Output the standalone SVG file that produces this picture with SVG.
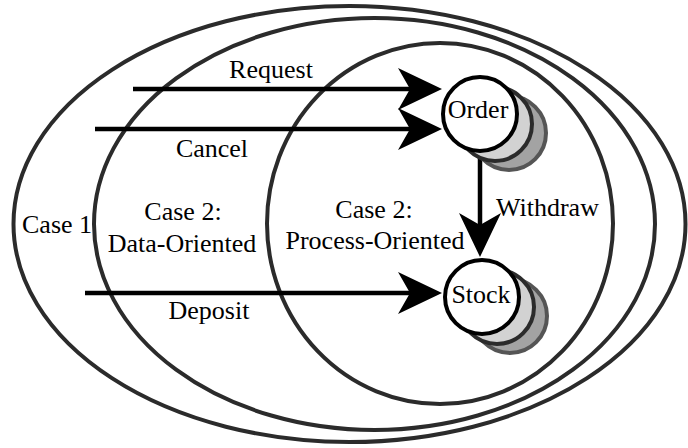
<svg xmlns="http://www.w3.org/2000/svg" width="688" height="448" viewBox="0 0 688 448">
<style>
.scope{fill:none;stroke:#2b2b2b;stroke-width:4}
.edge{stroke:#000;stroke-width:4.5;fill:none;marker-end:url(#ah)}
.node{fill:#fff;stroke:#000;stroke-width:4}
.sh1{fill:#d2d2d2;stroke:#2b2b2b;stroke-width:4}
.sh2{fill:#a3a3a3;stroke:#555;stroke-width:4}
.c{text-anchor:middle}
</style>
<defs>
<marker id="ah" markerUnits="userSpaceOnUse" markerWidth="46" markerHeight="44" refX="34" refY="21" orient="auto" overflow="visible">
<path d="M44,21 L0,0 L12,21 L0,42 Z" fill="#000"/>
</marker>
</defs>
<rect width="688" height="448" fill="#fff"/>
<g font-family="Liberation Serif, Times New Roman, Times, Tinos, Noto Serif, DejaVu Serif, FreeSerif, serif" font-size="26" fill="#000">
<g id="case1"><ellipse class="scope" cx="349.5" cy="224" rx="336" ry="218"/><text x="22" y="233">Case 1</text></g>
<g id="case2-data"><ellipse class="scope" cx="374.5" cy="224" rx="280.5" ry="206"/><text class="c" x="183" y="220">Case 2:</text><text class="c" x="182" y="252">Data-Oriented</text></g>
<g id="case2-process"><ellipse class="scope" cx="440" cy="223.5" rx="173" ry="180.5"/><text class="c" x="374" y="218">Case 2:</text><text class="c" x="375" y="249">Process-Oriented</text></g>
<g id="connectors">
<line class="edge" x1="133" y1="89" x2="432" y2="89"/>
<line class="edge" x1="95" y1="129" x2="432" y2="129"/>
<line class="edge" x1="85" y1="293" x2="432" y2="293"/>
<line class="edge" x1="480" y1="151" x2="480" y2="247"/>
<text class="c" x="271" y="78">Request</text>
<text class="c" x="212" y="157">Cancel</text>
<text class="c" x="209" y="319">Deposit</text>
<text x="496" y="216">Withdraw</text>
</g>
<g id="order">
<circle class="sh2" cx="509" cy="133" r="37"/>
<circle class="sh1" cx="495" cy="124" r="37"/>
<circle class="node" cx="480" cy="114" r="37"/>
<text class="c" x="478" y="118">Order</text>
</g>
<g id="stock">
<circle class="sh2" cx="510" cy="316" r="37"/>
<circle class="sh1" cx="497" cy="307" r="37"/>
<circle class="node" cx="482" cy="297" r="37"/>
<text class="c" x="481" y="303">Stock</text>
</g>
</g>
</svg>
